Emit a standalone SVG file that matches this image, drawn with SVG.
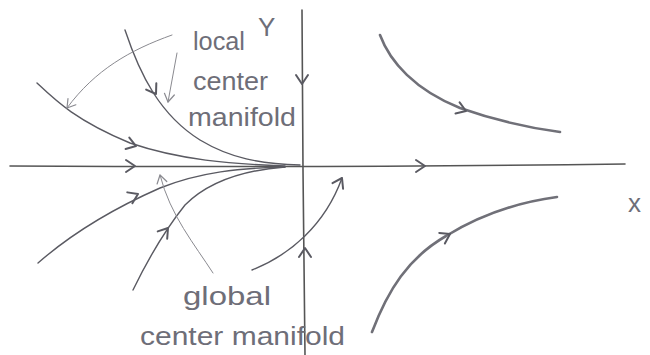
<svg xmlns="http://www.w3.org/2000/svg" width="650" height="355" viewBox="0 0 650 355">
<style>
.ax{fill:none;stroke:#555;stroke-width:1.6;stroke-linecap:round}
.tr{fill:none;stroke:#5a5a62;stroke-width:1.4;stroke-linecap:round}
.tk{fill:none;stroke:#707078;stroke-width:2.6;stroke-linecap:round}
.pt{fill:none;stroke:#8a8a90;stroke-width:1;stroke-linecap:round}
.ch{fill:none;stroke:#5a5a62;stroke-width:2;stroke-linecap:round;stroke-linejoin:round}
.chl{fill:none;stroke:#8a8a90;stroke-width:1.2;stroke-linecap:round;stroke-linejoin:round}
.lb{font-family:"Liberation Sans",Arial,sans-serif;font-size:26px;fill:#6e6e78}
</style>
<defs>
<path id="chev" d="M-9,-6 L0,0 L-9,6"/>
<path id="chevs" d="M-8,-5 L0,0 L-8,5"/>
</defs>
<rect width="650" height="355" fill="#fff"/>
<g id="axes">
<path class="ax" d="M10,166 C200,167 400,167 625,164"/>
<path class="ax" d="M302,10 L303,170 L305,355" stroke="#777"/>
</g>
<g id="connectors">
<path class="tr" d="M125,30 C140,75 160,115 200,140 C230,158 260,164 300,165"/>
<path class="tr" d="M37,83 C55,100 75,120 130,143 C180,160 230,164 285,166"/>
<path class="tr" d="M38,263 C70,235 110,210 160,188 C200,172 240,168 285,167"/>
<path class="tr" d="M133,290 C150,255 165,230 185,205 C210,180 245,170 285,167"/>
<path class="tr" d="M252,270 C290,255 325,225 342,178"/>
<path class="tk" d="M380,35 C390,62 415,90 460,108 C500,122 530,128 560,132"/>
<path class="tk" d="M372,332 C388,290 408,258 446,236 C480,215 520,202 557,197"/>
<path class="pt" d="M172,35 C130,50 95,70 67,108"/>
<path class="pt" d="M177,53 L168,102"/>
<path class="pt" d="M213,273 C195,245 170,215 160,175"/>
<use href="#chev" class="ch" transform="translate(135,166)"/>
<use href="#chev" class="ch" transform="translate(425,166)"/>
<use href="#chev" class="ch" transform="translate(302,84) rotate(90)"/>
<use href="#chev" class="ch" transform="translate(305,248) rotate(-90)"/>
<use href="#chev" class="ch" transform="translate(156,94) rotate(58)"/>
<use href="#chev" class="ch" transform="translate(136,146) rotate(18)"/>
<use href="#chev" class="ch" transform="translate(138,194) rotate(-25)"/>
<use href="#chev" class="ch" transform="translate(168,228) rotate(-52)"/>
<use href="#chev" class="ch" transform="translate(342,178) rotate(-62)"/>
<use href="#chev" class="ch" transform="translate(466,111) rotate(20)"/>
<use href="#chev" class="ch" transform="translate(450,234) rotate(-28)"/>
<use href="#chevs" class="chl" transform="translate(67,108) rotate(128)"/>
<use href="#chevs" class="chl" transform="translate(168,102) rotate(100)"/>
<use href="#chevs" class="chl" transform="translate(160,175) rotate(-104)"/>
</g>
<g id="label-y"><text class="lb" x="258" y="36">Y</text></g>
<g id="label-x"><text class="lb" x="628" y="212">x</text></g>
<g id="label-local">
<text class="lb" x="193" y="50" textLength="52" lengthAdjust="spacingAndGlyphs">local</text>
<text class="lb" x="193" y="90" textLength="75" lengthAdjust="spacingAndGlyphs">center</text>
<text class="lb" x="188" y="126" textLength="108" lengthAdjust="spacingAndGlyphs">manifold</text>
</g>
<g id="label-global">
<text class="lb" x="183" y="305" textLength="88" lengthAdjust="spacingAndGlyphs">global</text>
<text class="lb" x="140" y="345" textLength="205" lengthAdjust="spacingAndGlyphs">center manifold</text>
</g>
</svg>
